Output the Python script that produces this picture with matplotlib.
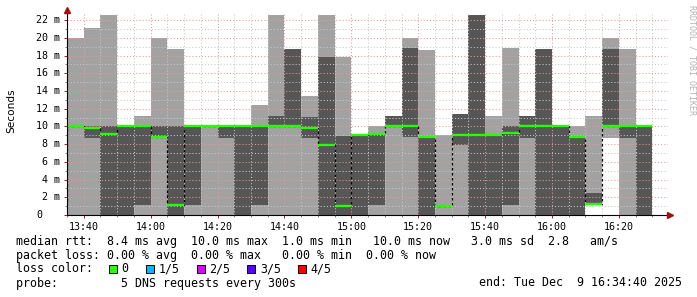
import numpy as np
import matplotlib.pyplot as plt
from matplotlib.patches import Rectangle
from matplotlib.transforms import blended_transform_factory

# one smokeping step every 5 minutes, starting at 13:35 (minutes after 13:35)
step_start = np.arange(0, 175, 5)
# sorted pings per step (ms): min, 2nd, median, 4th, max
ping_min = [0, 0, 0, 0, 0, 0, 0, 0, 0, 0, 0, 0, 0, 0, 0, 0, 0, 0,
            0, 0, 0, 0, 0, 0, 0, 0, 0, 0, 0, 0, 0, 1.2, 8.7, 0, 0]
ping_p2 = [10, 8.7, 0, 0, 1.1, 8.7, 0, 1.1, 10, 8.7, 0, 1.1, 10, 10, 8.7, 0, 0, 0,
           1.1, 10, 8.8, 0, 1.0, 7.9, 0, 0, 1.1, 8.7, 0, 0, 0, 1.2, 10, 8.7, 0]
ping_median = [10, 9.85, 9.1, 10, 10, 8.8, 1.15, 10, 10, 10, 10, 10, 10, 10, 9.85, 7.9, 1.0, 9.0,
               9.1, 10, 10, 8.8, 1.0, 9.0, 9.0, 9.0, 9.2, 10, 10, 10, 8.8, 1.2, 10, 10, 10]
ping_p4 = [10, 10, 10, 10, 10, 10, 10, 10, 10, 10, 10, 10, 11.2, 18.7, 11.1, 17.8, 8.9, 9.0,
           9.15, 11.2, 18.9, 8.8, 1.0, 11.4, 22.6, 9.1, 10, 11.2, 18.7, 10, 8.8, 2.5, 18.7, 10, 10]
ping_max = [20, 21.1, 22.6, 10, 11.2, 20, 18.7, 10, 10, 10, 10, 12.4, 22.6, 18.7, 13.4, 22.6, 17.8, 9.1,
            10, 11.2, 20, 18.6, 9.0, 11.4, 22.6, 11.2, 18.9, 11.2, 18.7, 10, 10, 11.2, 20, 18.7, 10]
median_before = 1.2

tick_minutes = [5, 25, 45, 65, 85, 105, 125, 145, 165]
tick_labels = ['13:40', '14:00', '14:20', '14:40', '15:00', '15:20', '15:40', '16:00', '16:20']
y_values = list(range(0, 23, 2))
y_labels = ['0'] + ['%2d m' % v for v in y_values[1:]]

loss_labels = ['0', '1/5', '2/5', '3/5', '4/5']
loss_colors = ['#26ff00', '#00b8ff', '#dd00ff', '#5e00ff', '#ff0000']

W, H = 697, 297
mono = 'DejaVu Sans Mono'
fig = plt.figure(figsize=(W / 100, H / 100), dpi=100)
fig.patch.set_facecolor('white')
ax = fig.add_axes([67 / W, 1 - 215 / H, 601 / W, 202 / H])
ax.set_xlim(0, 179.67)
ax.set_ylim(0, 22.8)

edges = np.append(step_start, 175)
def ext(a):
    return np.append(a, a[-1])

light, dark, green = '#a2a2a2', '#565656', '#26ff00'
ax.fill_between(edges, ext(ping_min), ext(ping_max), step='post', color=light, lw=0, zorder=1)
ax.fill_between(edges, ext(ping_p2), ext(ping_p4), step='post', color=dark, lw=0, zorder=1.1)

# grid on top of smoke, rrdtool style
for m in np.arange(0, 180, 5):
    major = m in tick_minutes
    ax.axvline(m, color='#e49a9a' if major else '#c8c8c8', lw=0.75,
               ls=(0, (1, 2)), zorder=2)
for v in range(1, 23):
    major = v % 2 == 0
    ax.axhline(v, color='#e49a9a' if major else '#c8c8c8', lw=0.75,
               ls=(0, (1, 2)), zorder=2)

# median: dotted black connectors, green level segments
med_x = np.concatenate([[-5], edges])
med_y = np.concatenate([[median_before], ext(ping_median)])
ax.step(med_x, med_y, where='post', color='black', lw=0.9, ls=(0, (2, 2)), zorder=3)
ax.hlines(ping_median, step_start, step_start + 5, color=green, lw=1.7, zorder=4)

for s in ['top', 'right']:
    ax.spines[s].set_visible(False)
for s in ['left', 'bottom']:
    ax.spines[s].set_color('black')
    ax.spines[s].set_linewidth(0.8)
    ax.spines[s].set_zorder(5)

ax.set_xticks(tick_minutes)
ax.set_xticklabels(tick_labels, fontfamily=mono, fontsize=7.2)
ax.set_xticks(np.arange(0, 180, 5), minor=True)
ax.tick_params(axis='x', which='major', length=2.5, width=0.7, pad=2.2, color='#a02020')
ax.tick_params(axis='x', which='minor', length=1.5, width=0.7, color='#808080')
ax.set_yticks(y_values)
ax.set_yticklabels([])
ax.set_yticks(range(0, 23), minor=True)
ax.tick_params(axis='y', which='major', length=2.5, width=0.7, color='#a02020')
ax.tick_params(axis='y', which='minor', length=1.5, width=0.7, color='#808080')
ylab_tr = blended_transform_factory(fig.transFigure, ax.transData)
for v, lab in zip(y_values, y_labels):
    ax.text(36 / W, v, lab, transform=ylab_tr, ha='left', va='center',
            fontfamily=mono, fontsize=7.2)

# axis arrows
ax.plot([0], [1.015], marker='^', ms=4, color='#a01010', transform=ax.transAxes, clip_on=False, zorder=6)
ax.plot([1.004], [0], marker='>', ms=4, color='#a01010', transform=ax.transAxes, clip_on=False, zorder=6)

fig.text(11 / W, 1 - 111 / H, 'Seconds', rotation=90, ha='center', va='center',
         fontfamily='DejaVu Sans', fontsize=7.6)
fig.text(692 / W, 1 - 60 / H, 'RRDTOOL / TOBI OETIKER', rotation=270, ha='center', va='center',
         fontfamily=mono, fontsize=6, color='#b4b4b4')

def row(pieces):
    s = ''
    for col, txt in pieces:
        s = s.ljust(col) + txt
    return s

fs = 8.4
row1 = row([(0, 'median rtt:'), (13, '8.4 ms avg'), (25, '10.0 ms max'), (38, '1.0 ms min'),
            (51, '10.0 ms now'), (65, '3.0 ms sd'), (76, '2.8'), (82, 'am/s')])
row2 = row([(0, 'packet loss:'), (13, '0.00 % avg'), (25, '0.00 % max'), (38, '0.00 % min'),
            (50, '0.00 % now')])
row4 = row([(0, 'probe:'), (15, '5 DNS requests every 300s')])
for y, s in [(241, row1), (255, row2), (269, 'loss color:'), (283, row4)]:
    fig.text(16 / W, 1 - y / H, s, ha='left', va='center', fontfamily=mono, fontsize=fs)
fig.text(479 / W, 1 - 283 / H, 'end: Tue Dec  9 16:34:40 2025', ha='left', va='center',
         fontfamily=mono, fontsize=fs)

sq_x = [108.5, 145.5, 196.5, 247, 297.5]
for x, lab, c in zip(sq_x, loss_labels, loss_colors):
    fig.add_artist(Rectangle((x / W, 1 - 273 / H), 8 / W, 8 / H, transform=fig.transFigure,
                             facecolor=c, edgecolor='black', lw=0.7))
    fig.text((x + 13) / W, 1 - 269 / H, lab, ha='left', va='center', fontfamily=mono, fontsize=fs)

fig.savefig('out.png', dpi=100)
